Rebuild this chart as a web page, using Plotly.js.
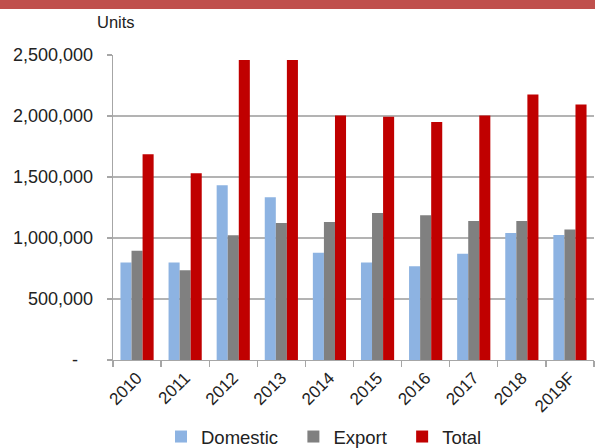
<!DOCTYPE html>
<html><head><meta charset="utf-8">
<script src="https://cdn.plot.ly/plotly-3.0.1.min.js"></script>
<style>html,body{margin:0;padding:0;background:#fff}#chart{width:595px;height:448px}</style>
</head><body><div id="chart"></div>
<script>
const years = ["2010","2011","2012","2013","2014","2015","2016","2017","2018","2019F"];
const domestic = [800000, 800000, 1433000, 1334000, 880000, 800000, 768000, 870000, 1041000, 1025000];
const exportVals = [896000, 735000, 1022000, 1123000, 1131000, 1205000, 1186000, 1140000, 1140000, 1069000];
const total = [1687000, 1531000, 2459000, 2459000, 2005000, 1993000, 1950000, 2005000, 2177000, 2095000];
const seriesNames = ["Domestic", "Export", "Total"];
const yTickVals = [0, 500000, 1000000, 1500000, 2000000, 2500000];
const yTickText = ["-\u00a0\u00a0\u00a0", "500,000", "1,000,000", "1,500,000", "2,000,000", "2,500,000"];

const font = "Arial, 'Liberation Sans', sans-serif";
const pad = ["\u00a0\u00a0", "\u00a0\u00a0", ""];
const colors = ["#8DB3E2", "#808080", "#C00000"];
const data = [domestic, exportVals, total];
const traces = seriesNames.map((n, i) => ({
  type:"bar", name:n + pad[i], x:years, y:data[i], marker:{color:colors[i]}
}));
const plotTop = 55, plotBottom = 360, plotH = plotBottom - plotTop;
const layout = {
  width:595, height:448,
  margin:{l:113, r:1, t:plotTop, b:448-plotBottom, autoexpand:false},
  paper_bgcolor:"#fff", plot_bgcolor:"#fff",
  font:{family:font, color:"#222", size:17},
  barmode:"group", bargap:0.31, bargroupgap:0,
  showlegend:true,
  legend:{orientation:"h", xref:"container", yref:"container", x:(203-42)/595, xanchor:"left",
          y:1-437/448, yanchor:"middle",
          font:{size:18.5, color:"#222"}, itemwidth:30, traceorder:"normal"},
  xaxis:{type:"category", showline:true, linecolor:"#a6a6a6", linewidth:1.3, automargin:false,
         ticks:"outside", tickson:"boundaries", ticklen:6, tickcolor:"#a6a6a6", tickwidth:1.3,
         tickangle:-45, tickfont:{size:17, color:"#222"}, showgrid:false},
  yaxis:{range:[0,2500000], tickvals:yTickVals, ticktext:yTickText, automargin:false,
         showline:true, linecolor:"#a6a6a6", linewidth:1.3,
         ticks:"outside", ticklen:5, tickcolor:"#a6a6a6", tickwidth:1.3, ticklabelstandoff:10,
         showgrid:true, gridcolor:"#b3b3b3", gridwidth:1.3, zeroline:false,
         tickfont:{size:18, color:"#222"}},
  shapes:[
    {type:"rect", xref:"paper", yref:"paper", x0:-0.25, x1:1.01,
     y0:(plotBottom-9)/plotH, y1:(plotBottom+2)/plotH,
     fillcolor:"#C0504D", line:{width:0}, layer:"above"}
  ],
  annotations:[
    {text:"Units", xref:"paper", yref:"paper", x:(95-113)/481, y:(plotBottom-22)/plotH,
     xanchor:"left", yanchor:"middle", showarrow:false, font:{size:16.5, color:"#222"}}
  ]
};
Plotly.newPlot("chart", traces, layout, {staticPlot:true, displayModeBar:false});
</script></body></html>
